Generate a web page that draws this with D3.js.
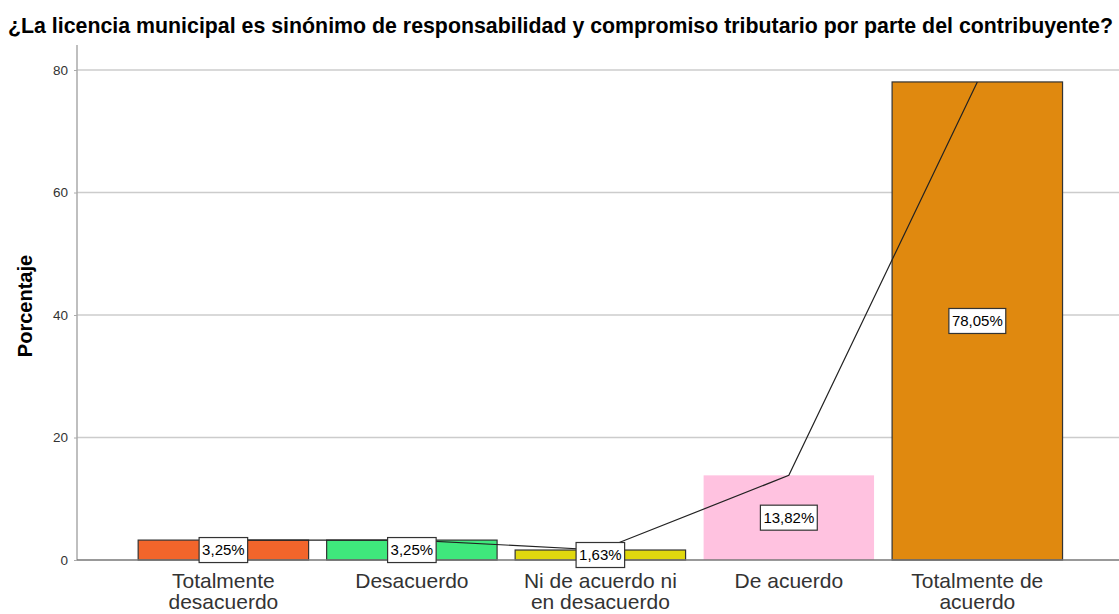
<!DOCTYPE html>
<html><head><meta charset="utf-8">
<script src="https://cdn.jsdelivr.net/npm/d3@7"></script>
<style>body{margin:0;background:#fff}text{font-family:"Liberation Sans",Arial,sans-serif}</style>
</head><body><svg id="c" width="1119" height="614"></svg>
<script>
const categories = [["Totalmente","desacuerdo"],["Desacuerdo"],["Ni de acuerdo ni","en desacuerdo"],["De acuerdo"],["Totalmente de","acuerdo"]];
const values = [3.25, 3.25, 1.63, 13.82, 78.05];
const labels = ["3,25%","3,25%","1,63%","13,82%","78,05%"];
const colors = ["#F2652B","#3FE87C","#E0D80E","#FFC2E0","#E0890F"];
const strokes = [true,true,true,false,true];
const yTicks = [0,20,40,60,80];

const svg = d3.select("#c");
const W=1119, H=614;
const x0=77, yBottom=560;
const y = d3.scaleLinear().domain([0,80]).range([yBottom,70]);
const x = d3.scaleBand().domain(d3.range(values.length)).range([x0,1119]).paddingInner(0.0957).paddingOuter(0.312).align(0.52);

svg.append("text").attr("x",8).attr("y",33).attr("font-size",21.4).attr("font-weight","bold").attr("fill","#000")
  .attr("textLength",1105).attr("lengthAdjust","spacingAndGlyphs")
  .text("¿La licencia municipal es sinónimo de responsabilidad y compromiso tributario por parte del contribuyente?");

// grid
svg.append("g").selectAll("line").data(yTicks.filter(d=>d>0)).join("line")
  .attr("x1",x0).attr("x2",W).attr("y1",d=>y(d)).attr("y2",d=>y(d))
  .attr("stroke","#cccccc").attr("stroke-width",1.6);

// y axis
const ya = svg.append("g").attr("transform",`translate(${x0},0)`).call(d3.axisLeft(y).tickValues(yTicks).tickSize(3).tickPadding(6));
ya.select(".domain").remove();
ya.selectAll(".tick line").attr("stroke","#aaa");
ya.selectAll(".tick text").attr("font-size",13.5).attr("fill","#333").attr("font-family","Liberation Sans, Arial, sans-serif");
svg.append("line").attr("x1",x0).attr("x2",x0).attr("y1",45).attr("y2",yBottom).attr("stroke","#aaa").attr("stroke-width",1.5);

svg.append("text").attr("transform",`translate(32,306) rotate(-90)`).attr("text-anchor","middle")
  .attr("font-size",20).attr("font-weight","bold").attr("fill","#000").text("Porcentaje");

// bars
svg.append("g").selectAll("rect").data(values).join("rect")
  .attr("x",(d,i)=>x(i)).attr("width",x.bandwidth())
  .attr("y",d=>y(d)).attr("height",d=>yBottom-y(d))
  .attr("fill",(d,i)=>colors[i])
  .attr("stroke",(d,i)=>strokes[i]?"#333":"none").attr("stroke-width",1.2);

// x axis line
svg.append("line").attr("x1",x0).attr("x2",W).attr("y1",yBottom).attr("y2",yBottom).attr("stroke","#777").attr("stroke-width",1.5);

// line
const line = d3.line().x((d,i)=>x(i)+x.bandwidth()/2).y(d=>y(d));
svg.append("path").datum(values).attr("d",line).attr("fill","none").attr("stroke","#222").attr("stroke-width",1.2);

// labels
const lg = svg.append("g").selectAll("g").data(values).join("g")
  .attr("transform",(d,i)=>`translate(${x(i)+x.bandwidth()/2},${(y(d)+yBottom)/2})`);
lg.each(function(d,i){
  const g=d3.select(this);
  const t=g.append("text").attr("text-anchor","middle").attr("dy","0.36em").attr("font-size",15).attr("fill","#000").text(labels[i]);
  const bb=t.node().getBBox();
  g.insert("rect","text").attr("x",bb.x-3).attr("y",-12.5).attr("width",bb.width+6).attr("height",25)
    .attr("fill","#fff").attr("stroke","#333").attr("stroke-width",1.2);
});

// x labels
svg.append("g").selectAll("text").data(categories).join("text")
  .attr("text-anchor","middle").attr("font-size",21).attr("fill","#333")
  .attr("x",(d,i)=>x(i)+x.bandwidth()/2).attr("y",588)
  .each(function(d){
    d3.select(this).selectAll("tspan").data(d).join("tspan")
      .attr("x",d3.select(this).attr("x")).attr("dy",(t,j)=>j?21:0).text(t=>t);
  });
</script></body></html>
